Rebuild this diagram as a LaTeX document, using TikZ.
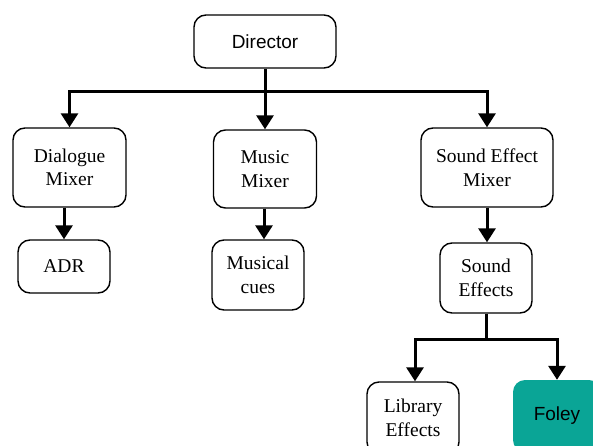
\documentclass[tikz,border=0pt]{standalone}
\usepackage{fontspec}
\setmainfont{Liberation Serif}
\newfontfamily\sansf{Liberation Sans}
\usetikzlibrary{arrows.meta}
\definecolor{teal1}{RGB}{10,165,150}
\begin{document}
\begin{tikzpicture}[x=1pt,y=-1pt,
  box/.style={draw, line width=1.4pt, rounded corners=12pt, align=center, inner sep=0pt,
    font=\fontsize{19.5}{23.5}\selectfont},
  conn/.style={line width=3pt, -{Triangle[width=17pt,length=14pt]}},
  plain/.style={line width=3pt}]
\useasboundingbox (0,0) rectangle (593,446);
\clip (0,0) rectangle (593,446);
\node[box, font=\sansf\fontsize{19}{22}\selectfont, minimum width=142pt, minimum height=53pt] (dir) at (265,41.5) {Director};
\node[box, minimum width=113pt, minimum height=79pt] (dial) at (69.5,167.5) {Dialogue\\Mixer};
\node[box, minimum width=103pt, minimum height=78pt] (mus) at (265,169) {Music\\Mixer};
\node[box, minimum width=132pt, minimum height=79pt] (sfx) at (487,167.5) {Sound Effect\\Mixer};
\node[box, minimum width=92pt, minimum height=53pt] (adr) at (64,266.5) {ADR};
\node[box, minimum width=92pt, minimum height=70pt] (cues) at (258,275) {Musical\\cues};
\node[box, minimum width=92pt, minimum height=70pt] (se) at (486,278) {Sound\\Effects};
\node[box, minimum width=92pt, minimum height=72pt] (lib) at (413,418) {Library\\Effects};
\node[draw=none, fill=teal1, rounded corners=12pt, inner sep=0pt, minimum width=88pt, minimum height=72pt,
  font=\sansf\fontsize{19}{22}\selectfont] (foley) at (557,416) {Foley};
% top tree
\coordinate (j1) at (265,92);
\draw[conn] (dir.south) -- (mus.north);
\draw[conn] (j1) -| (dial.north);
\draw[conn] (j1) -| (sfx.north);
% mixer to children
\draw[conn] (dial.south -| adr.north) -- (adr.north);
\draw[conn] ([xshift=-1pt]mus.south) -- ([xshift=6pt]cues.north);
\draw[conn] (sfx.south) -- (sfx.south |- se.north);
% sound effects
\coordinate (j2) at (486,339);
\draw[plain] (se.south) -- (j2);
\draw[conn] (j2) -| ([xshift=2pt]lib.north);
\draw[conn] (j2) -| (foley.north);
\end{tikzpicture}
\end{document}
